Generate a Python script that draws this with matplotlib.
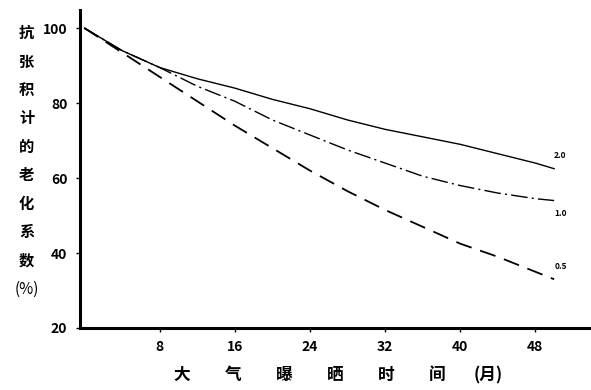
import matplotlib
matplotlib.use("Agg")
import matplotlib.pyplot as plt

plt.rcParams['font.family'] = ['Noto Sans CJK SC', 'DejaVu Sans']

months = [0, 4, 8, 12, 16, 20, 24, 28, 32, 36, 40, 44, 48, 50]
coef_20 = [100, 94, 89.5, 86.5, 84, 81, 78.5, 75.5, 73, 71, 69, 66.5, 64, 62.5]
coef_10 = [100, 94, 89.5, 84.5, 80.5, 75.5, 71.5, 67.5, 64, 60.5, 58, 56, 54.5, 54]
coef_05 = [100, 93.5, 87, 80.5, 74, 68, 62, 56.5, 51.5, 47, 42.5, 39, 35, 33]
curve_labels = ['2.0', '1.0', '0.5']
xticks = [8, 16, 24, 32, 40, 48]
yticks = [20, 40, 60, 80, 100]
ylabel_chars = list("抗张积计的老化系数") + ["(%)"]
xlabel_parts = ["大", "气", "曝", "晒", "时", "间", "(月)"]

fig = plt.figure(figsize=(5.91, 3.90), dpi=100)
ax = fig.add_axes([0.135, 0.159, 0.863, 0.815])

ax.plot(months, coef_20, color='black', lw=1.0, ls='-')
ax.plot(months, coef_10, color='black', lw=1.0, ls=(0, (12, 3, 1.5, 3)))
ax.plot(months, coef_05, color='black', lw=1.3, ls=(0, (9, 5)))

# labels near line ends
label_dy = [3.5, -3.5, 3.5]
for lab, series, dy in zip(curve_labels, [coef_20, coef_10, coef_05], label_dy):
    ax.text(50, series[-1] + dy, lab, fontsize=6, fontweight='bold',
            ha='left', va='center')

ax.set_xlim(-0.5, 53.8)
ax.set_ylim(20, 104.8)
ax.set_xticks(xticks)
ax.set_yticks(yticks)
ax.tick_params(axis='both', length=3, width=1, labelsize=10, pad=6)
for t in ax.get_xticklabels() + ax.get_yticklabels():
    t.set_fontweight('bold')
ax.spines['top'].set_visible(False)
ax.spines['right'].set_visible(False)
ax.spines['left'].set_linewidth(2.2)
ax.spines['bottom'].set_linewidth(2.2)

# vertical stacked y label
for i, ch in enumerate(ylabel_chars):
    y_px = 33 + i * 28.5
    fig.text(0.045, 1 - y_px / 390, ch, fontsize=11,
             fontweight='bold' if i < 9 else 'normal',
             ha='center', va='center')

# widely spaced x label
for i, ch in enumerate(xlabel_parts):
    x_px = 182 + i * 51
    fig.text(x_px / 591, 1 - 375 / 390, ch, fontsize=12, fontweight='bold',
             ha='center', va='center')

fig.savefig("out.png", dpi=100)
